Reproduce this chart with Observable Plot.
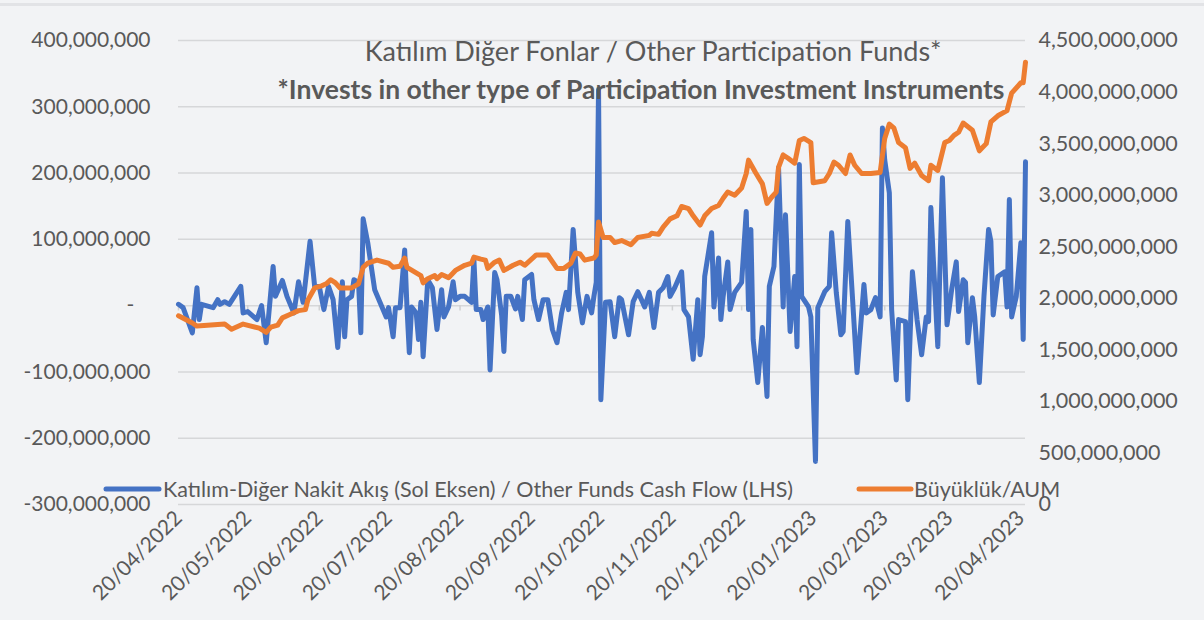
<!DOCTYPE html>
<html>
<head>
<meta charset="utf-8">
<script src="https://cdn.jsdelivr.net/npm/d3@7"></script>
<script src="https://cdn.jsdelivr.net/npm/@observablehq/plot@0.6"></script>
<style>
  html, body { margin: 0; padding: 0; background: #f2f3f5; }
  #wrap { position: relative; width: 1204px; height: 620px; overflow: hidden; background: #f2f3f5; font-family: Lato, "Open Sans", sans-serif; }
  #topline { position: absolute; left: 0; top: 3px; width: 1204px; height: 3px; background: #e2e3e6; }
  #legend { position: absolute; left: 0; top: 0; }
</style>
</head>
<body>
<div id="wrap"><div id="topline"></div></div>
<script>
// ---- data ----
const titleLine1 = "Katılım Diğer Fonlar / Other Participation Funds*";
const titleLine2 = "*Invests in other type of Participation Investment Instruments";
const seriesNames = ["Katılım-Diğer Nakit Akış (Sol Eksen) / Other Funds Cash Flow (LHS)", "Büyüklük/AUM"];
const seriesColors = ["#4472C4", "#ED7D31"];

const monthTicks = ["2022-04-20","2022-05-20","2022-06-20","2022-07-20","2022-08-20","2022-09-20","2022-10-20","2022-11-20","2022-12-20","2023-01-20","2023-02-20","2023-03-20","2023-04-20"];
const leftTicks = [-300e6, -200e6, -100e6, 0, 100e6, 200e6, 300e6, 400e6];
const rightTicks = [0, 500e6, 1000e6, 1500e6, 2000e6, 2500e6, 3000e6, 3500e6, 4000e6, 4500e6];

// Cash flow (TL millions)
const flowDates = ["2022-04-20","2022-04-22","2022-04-26","2022-04-28","2022-04-29","2022-04-30","2022-05-05","2022-05-07","2022-05-08","2022-05-10","2022-05-12","2022-05-17","2022-05-18","2022-05-20","2022-05-24","2022-05-26","2022-05-28","2022-05-31","2022-06-01","2022-06-04","2022-06-06","2022-06-09","2022-06-11","2022-06-13","2022-06-16","2022-06-18","2022-06-20","2022-06-22","2022-06-24","2022-06-26","2022-06-28","2022-06-30","2022-07-01","2022-07-02","2022-07-04","2022-07-05","2022-07-07","2022-07-08","2022-07-09","2022-07-11","2022-07-14","2022-07-19","2022-07-20","2022-07-22","2022-07-23","2022-07-25","2022-07-27","2022-07-28","2022-07-29","2022-07-30","2022-08-01","2022-08-02","2022-08-03","2022-08-04","2022-08-06","2022-08-08","2022-08-10","2022-08-12","2022-08-13","2022-08-15","2022-08-17","2022-08-18","2022-08-20","2022-08-22","2022-08-25","2022-08-26","2022-08-27","2022-08-29","2022-08-30","2022-09-01","2022-09-02","2022-09-04","2022-09-05","2022-09-07","2022-09-08","2022-09-09","2022-09-11","2022-09-13","2022-09-14","2022-09-16","2022-09-17","2022-09-20","2022-09-21","2022-09-23","2022-09-25","2022-09-27","2022-09-29","2022-10-01","2022-10-03","2022-10-05","2022-10-06","2022-10-08","2022-10-09","2022-10-10","2022-10-12","2022-10-14","2022-10-16","2022-10-17","2022-10-18","2022-10-19","2022-10-20","2022-10-22","2022-10-24","2022-10-26","2022-10-28","2022-10-29","2022-11-01","2022-11-03","2022-11-05","2022-11-07","2022-11-08","2022-11-10","2022-11-12","2022-11-14","2022-11-16","2022-11-18","2022-11-19","2022-11-21","2022-11-24","2022-11-25","2022-11-27","2022-11-29","2022-12-01","2022-12-02","2022-12-03","2022-12-04","2022-12-07","2022-12-08","2022-12-10","2022-12-11","2022-12-12","2022-12-14","2022-12-15","2022-12-17","2022-12-20","2022-12-22","2022-12-23","2022-12-24","2022-12-25","2022-12-27","2022-12-29","2022-12-31","2023-01-01","2023-01-03","2023-01-05","2023-01-07","2023-01-08","2023-01-10","2023-01-12","2023-01-13","2023-01-14","2023-01-15","2023-01-18","2023-01-19","2023-01-21","2023-01-22","2023-01-25","2023-01-27","2023-01-28","2023-01-30","2023-02-01","2023-02-02","2023-02-04","2023-02-06","2023-02-08","2023-02-11","2023-02-12","2023-02-14","2023-02-16","2023-02-18","2023-02-19","2023-02-20","2023-02-22","2023-02-23","2023-02-25","2023-02-26","2023-03-01","2023-03-02","2023-03-04","2023-03-06","2023-03-08","2023-03-10","2023-03-11","2023-03-12","2023-03-13","2023-03-15","2023-03-17","2023-03-19","2023-03-21","2023-03-23","2023-03-24","2023-03-26","2023-03-27","2023-03-28","2023-03-30","2023-03-31","2023-04-02","2023-04-04","2023-04-06","2023-04-07","2023-04-08","2023-04-10","2023-04-13","2023-04-14","2023-04-15","2023-04-16","2023-04-18","2023-04-20","2023-04-21","2023-04-22"];
const flowMillions = [2,-3,-41,27,-21,2,-3,9,2,6,2,29,-11,-9,-21,0,-56,59,14,38,14,-11,36,5,97,29,29,-6,29,9,-63,36,-47,9,14,39,35,-41,131,95,24,-17,-3,-47,-3,-3,84,-3,-71,-2,-11,-51,5,-77,39,27,-36,24,-17,-2,36,9,14,14,5,69,-6,-6,-21,-2,-97,50,39,-14,-69,14,14,-5,14,-21,39,47,9,-21,9,9,-36,-56,-11,20,-6,115,69,20,-26,14,-11,14,35,326,-142,5,6,-47,12,9,-44,6,21,6,-2,20,-33,20,27,44,14,27,51,-6,-17,-81,9,-74,-47,44,110,-2,72,-21,14,66,-6,20,35,142,-6,115,-51,-116,-33,-137,29,59,208,-2,137,-39,44,-62,213,14,-2,-17,-235,-3,21,29,110,20,-44,-39,127,14,-101,32,-11,-6,12,-17,268,220,170,-6,-112,-21,-24,-142,51,-21,-74,-17,-24,148,74,-62,193,-29,24,66,-9,39,35,-56,12,-17,-116,14,115,97,-14,44,51,-2,160,-17,14,95,-51,217];

// AUM (TL billions)
const aumDates = ["2022-04-20","2022-04-26","2022-04-28","2022-05-10","2022-05-13","2022-05-18","2022-05-25","2022-05-28","2022-05-30","2022-06-02","2022-06-04","2022-06-07","2022-06-11","2022-06-14","2022-06-15","2022-06-18","2022-06-21","2022-06-23","2022-06-25","2022-06-27","2022-06-29","2022-07-04","2022-07-07","2022-07-09","2022-07-11","2022-07-15","2022-07-20","2022-07-22","2022-07-25","2022-07-27","2022-07-28","2022-08-03","2022-08-04","2022-08-06","2022-08-09","2022-08-10","2022-08-12","2022-08-15","2022-08-18","2022-08-22","2022-08-25","2022-08-26","2022-08-29","2022-08-31","2022-09-01","2022-09-04","2022-09-06","2022-09-08","2022-09-12","2022-09-15","2022-09-17","2022-09-22","2022-09-27","2022-10-01","2022-10-04","2022-10-07","2022-10-09","2022-10-11","2022-10-13","2022-10-17","2022-10-18","2022-10-19","2022-10-21","2022-10-24","2022-10-26","2022-10-29","2022-11-02","2022-11-05","2022-11-10","2022-11-11","2022-11-14","2022-11-16","2022-11-19","2022-11-22","2022-11-24","2022-11-27","2022-11-29","2022-12-02","2022-12-04","2022-12-07","2022-12-10","2022-12-12","2022-12-14","2022-12-17","2022-12-20","2022-12-22","2022-12-23","2022-12-26","2022-12-29","2022-12-31","2023-01-02","2023-01-04","2023-01-05","2023-01-07","2023-01-09","2023-01-12","2023-01-14","2023-01-16","2023-01-19","2023-01-20","2023-01-25","2023-01-27","2023-01-29","2023-01-31","2023-02-03","2023-02-05","2023-02-07","2023-02-10","2023-02-14","2023-02-18","2023-02-20","2023-02-22","2023-02-24","2023-02-26","2023-03-01","2023-03-03","2023-03-05","2023-03-08","2023-03-11","2023-03-12","2023-03-15","2023-03-18","2023-03-20","2023-03-22","2023-03-24","2023-03-26","2023-03-30","2023-04-02","2023-04-05","2023-04-07","2023-04-10","2023-04-14","2023-04-16","2023-04-20","2023-04-21","2023-04-22"];
const aumBillions = [1.83,1.76,1.73,1.75,1.70,1.75,1.71,1.67,1.72,1.74,1.81,1.84,1.88,1.89,1.98,2.10,2.12,2.14,2.18,2.15,2.10,2.10,2.14,2.30,2.34,2.37,2.34,2.30,2.31,2.39,2.30,2.22,2.15,2.19,2.22,2.19,2.23,2.20,2.27,2.32,2.34,2.40,2.38,2.37,2.29,2.35,2.37,2.27,2.32,2.35,2.32,2.42,2.42,2.29,2.29,2.34,2.44,2.43,2.37,2.39,2.42,2.74,2.59,2.59,2.54,2.56,2.52,2.59,2.61,2.63,2.62,2.69,2.77,2.80,2.89,2.87,2.80,2.71,2.80,2.87,2.90,2.97,3.03,3.00,3.07,3.21,3.34,3.22,3.11,2.92,2.98,3.03,3.27,3.39,3.36,3.31,3.53,3.55,3.51,3.12,3.14,3.21,3.32,3.29,3.21,3.39,3.29,3.21,3.21,3.22,3.55,3.69,3.65,3.51,3.46,3.26,3.31,3.19,3.14,3.29,3.24,3.51,3.53,3.58,3.61,3.70,3.63,3.43,3.50,3.71,3.77,3.82,3.99,4.09,4.09,4.29];

// ---- build ----
const parse = d3.utcParse("%Y-%m-%d");
const flow = flowDates.map((d, i) => ({date: parse(d), value: flowMillions[i] * 1e6}));
const aum = aumDates.map((d, i) => ({date: parse(d), value: aumBillions[i] * 1e9}));

const leftMin = -300e6, leftMax = 400e6, rightMax = 4500e6;
const toLeft = a => leftMin + a * (leftMax - leftMin) / rightMax;

const fmt = d3.format(",");
const leftFormat = d => d === 0 ? "-\u00a0\u00a0\u00a0" : fmt(d).replace("\u2212", "-");
const rightLabels = rightTicks.map(fmt);

const grey = "#595959";
const font = "Lato, 'Open Sans', sans-serif";

const chart = Plot.plot({
  width: 1204,
  height: 620,
  marginLeft: 178,
  marginRight: 179,
  marginTop: 40,
  marginBottom: 116,
  style: {background: "transparent", fontFamily: font, fontSize: "21px", color: grey},
  x: {type: "utc", domain: [parse("2022-04-20"), parse("2023-04-22")]},
  y: {domain: [leftMin, leftMax]},
  marks: [
    Plot.gridY(leftTicks, {stroke: "#d6d7d9", strokeOpacity: 1, strokeWidth: 1.5}),
    Plot.ruleX(monthTicks.map(parse), {y1: 0, y2: -8e6, stroke: "#d0d1d3", strokeWidth: 1.5}),
    Plot.axisY(leftTicks, {anchor: "left", tickSize: 0, tickPadding: 28, tickFormat: leftFormat, fill: grey, fontSize: 21, label: null}),
    Plot.axisY(rightTicks.map(toLeft), {anchor: "right", tickSize: 0, tickPadding: 13, tickFormat: (d, i) => rightLabels[i], fill: grey, fontSize: 21.5, label: null}),
    Plot.axisX(monthTicks.map(parse), {anchor: "bottom", tickSize: 0, tickPadding: 10, tickRotate: -45, tickFormat: d3.utcFormat("%d/%m/%Y"), fill: grey, fontSize: 21, label: null}),
    Plot.lineY(flow, {x: "date", y: "value", stroke: seriesColors[0], strokeWidth: 5, strokeLinejoin: "round", strokeLinecap: "round"}),
    Plot.lineY(aum, {x: "date", y: d => toLeft(d.value), stroke: seriesColors[1], strokeWidth: 5, strokeLinejoin: "round", strokeLinecap: "round"}),
    Plot.text([titleLine1], {frameAnchor: "top", lineAnchor: "middle", dx: 51, dy: 12, fill: grey, fontSize: 27, fontWeight: "normal"}),
    Plot.text([titleLine2], {frameAnchor: "top", lineAnchor: "middle", dx: 39, dy: 50, fill: grey, fontSize: 26.5, fontWeight: "bold"})
  ]
});
const wrap = document.getElementById("wrap");
chart.style.position = "absolute";
chart.style.left = "0px";
chart.style.top = "0px";
wrap.appendChild(chart);

// legend overlay
const ns = "http://www.w3.org/2000/svg";
const leg = document.createElementNS(ns, "svg");
leg.setAttribute("id", "legend");
leg.setAttribute("width", 1204);
leg.setAttribute("height", 620);
const legendItems = [
  {name: seriesNames[0], color: seriesColors[0], x0: 106, x1: 159, tx: 163},
  {name: seriesNames[1], color: seriesColors[1], x0: 859, x1: 911, tx: 914}
];
for (const it of legendItems) {
  const l = document.createElementNS(ns, "line");
  l.setAttribute("x1", it.x0); l.setAttribute("x2", it.x1);
  l.setAttribute("y1", 489); l.setAttribute("y2", 489);
  l.setAttribute("stroke", it.color); l.setAttribute("stroke-width", 5);
  l.setAttribute("stroke-linecap", "round");
  leg.appendChild(l);
  const t = document.createElementNS(ns, "text");
  t.setAttribute("x", it.tx); t.setAttribute("y", 497);
  t.setAttribute("fill", grey);
  t.setAttribute("font-family", font);
  t.setAttribute("font-size", 21.5);
  t.textContent = it.name;
  leg.appendChild(t);
}
wrap.appendChild(leg);
</script>
</body>
</html>
